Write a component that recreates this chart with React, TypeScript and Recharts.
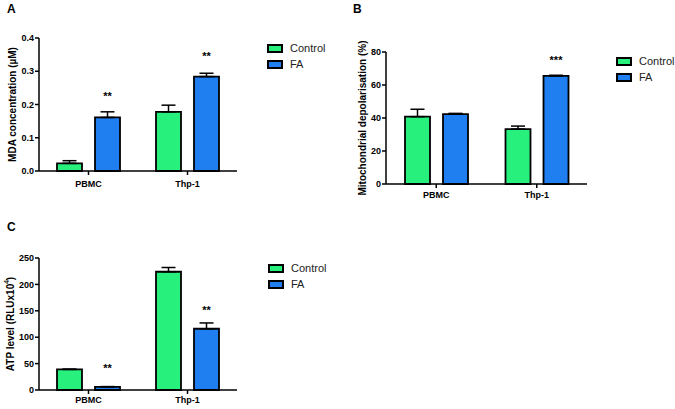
import React from 'react'
import { Bar, BarChart, ErrorBar, LabelList, XAxis, YAxis } from 'recharts'

const groups = ['PBMC', 'Thp-1']
const seriesNames = ['Control', 'FA']
const seriesColors = ['#27F07C', '#1F7EF0']

// A: MDA concentration (µM)
const mdaControl = [0.023, 0.178]
const mdaControlErr = [0.008, 0.02]
const mdaFA = [0.161, 0.284]
const mdaFAErr = [0.017, 0.01]
const mdaSig = ['**', '**']
const mdaTicks = [0, 0.1, 0.2, 0.3, 0.4]

// B: Mitochondrial depolarisation (%)
const mitoControl = [40.8, 33.3]
const mitoControlErr = [4.5, 1.8]
const mitoFA = [42.4, 65.5]
const mitoFAErr = [0.4, 0.4]
const mitoSig = ['', '***']
const mitoTicks = [0, 20, 40, 60, 80]

// C: ATP level (RLUx10^4)
const atpControl = [39, 224]
const atpControlErr = [0.5, 8]
const atpFA = [6, 116]
const atpFAErr = [0.5, 11]
const atpSig = ['**', '**']
const atpTicks = [0, 50, 100, 150, 200, 250]

const font = '"Liberation Sans", Arial, Helvetica, sans-serif'

function buildData(
	control: number[],
	controlErr: number[],
	fa: number[],
	faErr: number[],
	sig: string[]
) {
	return groups.map((name, i) => ({
		name,
		control: control[i],
		controlErr: [0, controlErr[i]],
		fa: fa[i],
		faErr: [0, faErr[i]],
		sig: sig[i]
	}))
}

// rotated axis title, optional superscript part
function AxisTitle(props: any) {
	const { viewBox, offset, text, sup } = props
	const x = viewBox.x + offset
	const y = viewBox.y + viewBox.height / 2
	return (
		<text
			x={x}
			y={y}
			transform={`rotate(-90, ${x}, ${y})`}
			textAnchor='middle'
			dominantBaseline='central'
			fontSize={10}
			fontWeight='bold'
			fontFamily={font}
			fill='#000'
		>
			{text}
			{sup ? (
				<>
					<tspan fontSize={6.5} dy={-4}>
						{sup}
					</tspan>
					<tspan dy={4}>)</tspan>
				</>
			) : null}
		</text>
	)
}

type PanelProps = {
	data: ReturnType<typeof buildData>
	left: number
	top: number
	width: number
	height: number
	margin: { top: number; right: number; bottom: number; left: number }
	yWidth: number
	xHeight: number
	xTickMargin: number
	ticks: number[]
	format?: (v: number) => string
	yLabel: string
	yLabelSup?: string
	yLabelOffset: number
	starOffset: number
}

function Panel(p: PanelProps) {
	const tickStyle = { fontSize: 9, fontWeight: 'bold', fill: '#000', fontFamily: font }
	return (
		<div style={{ position: 'absolute', left: p.left, top: p.top }}>
			<BarChart
				width={p.width}
				height={p.height}
				data={p.data}
				margin={p.margin}
				barSize={25}
				barGap={13}
			>
				<XAxis
					dataKey='name'
					height={p.xHeight}
					tick={tickStyle}
					tickSize={4}
					tickMargin={p.xTickMargin}
					axisLine={{ stroke: '#000', strokeWidth: 1.5 }}
					tickLine={{ stroke: '#000', strokeWidth: 1.5 }}
				/>
				<YAxis
					width={p.yWidth}
					domain={[p.ticks[0], p.ticks[p.ticks.length - 1]]}
					ticks={p.ticks}
					tickFormatter={p.format}
					tick={tickStyle}
					tickSize={4}
					tickMargin={1}
					axisLine={{ stroke: '#000', strokeWidth: 1.5 }}
					tickLine={{ stroke: '#000', strokeWidth: 1.5 }}
					label={(lp: any) => (
						<AxisTitle
							viewBox={lp.viewBox}
							offset={p.yLabelOffset}
							text={p.yLabel}
							sup={p.yLabelSup}
						/>
					)}
				/>
				<Bar
					dataKey='control'
					fill={seriesColors[0]}
					stroke='#000'
					strokeWidth={1.8}
					isAnimationActive={false}
				>
					<ErrorBar
						dataKey='controlErr'
						direction='y'
						width={7}
						stroke='#000'
						strokeWidth={1.5}
					/>
				</Bar>
				<Bar
					dataKey='fa'
					fill={seriesColors[1]}
					stroke='#000'
					strokeWidth={1.8}
					isAnimationActive={false}
				>
					<ErrorBar
						dataKey='faErr'
						direction='y'
						width={7}
						stroke='#000'
						strokeWidth={1.5}
					/>
					<LabelList
						dataKey='sig'
						position='top'
						offset={p.starOffset}
						style={{ fontSize: 11, fontWeight: 'bold', fill: '#000', fontFamily: font }}
					/>
				</Bar>
			</BarChart>
		</div>
	)
}

function Legend({ left, top }: { left: number; top: number }) {
	return (
		<div style={{ position: 'absolute', left, top, fontFamily: font }}>
			{seriesNames.map((name, i) => (
				<div key={name} style={{ display: 'flex', alignItems: 'center', height: 16 }}>
					<div
						style={{
							width: 16,
							height: 9,
							boxSizing: 'border-box',
							border: '2px solid #000',
							background: seriesColors[i]
						}}
					/>
					<span style={{ marginLeft: 7, fontSize: 11, lineHeight: '16px', color: '#222' }}>
						{name}
					</span>
				</div>
			))}
		</div>
	)
}

function PanelLetter({ left, top, text }: { left: number; top: number; text: string }) {
	return (
		<div
			style={{
				position: 'absolute',
				left,
				top,
				fontFamily: font,
				fontWeight: 'bold',
				fontSize: 12,
				lineHeight: '12px'
			}}
		>
			{text}
		</div>
	)
}

export default function App() {
	const dataA = buildData(mdaControl, mdaControlErr, mdaFA, mdaFAErr, mdaSig)
	const dataB = buildData(mitoControl, mitoControlErr, mitoFA, mitoFAErr, mitoSig)
	const dataC = buildData(atpControl, atpControlErr, atpFA, atpFAErr, atpSig)
	return (
		<div
			style={{
				position: 'absolute',
				left: 0,
				top: 0,
				width: 675,
				height: 409,
				background: '#fff',
				overflow: 'hidden'
			}}
		>
			<PanelLetter left={7} top={3} text='A' />
			<PanelLetter left={353} top={3} text='B' />
			<PanelLetter left={7} top={221} text='C' />
			<Panel
				data={dataA}
				left={0}
				top={0}
				width={340}
				height={200}
				margin={{ top: 38, right: 103, bottom: 0, left: 0 }}
				yWidth={39}
				xHeight={29}
				xTickMargin={6}
				ticks={mdaTicks}
				format={(v) => v.toFixed(1)}
				yLabel='MDA concentration (µM)'
				yLabelOffset={12}
				starOffset={17}
			/>
			<Panel
				data={dataB}
				left={340}
				top={0}
				width={335}
				height={205}
				margin={{ top: 52, right: 88, bottom: 0, left: 0 }}
				yWidth={46}
				xHeight={21}
				xTickMargin={4}
				ticks={mitoTicks}
				yLabel='Mitochondrial depolarisation (%)'
				yLabelOffset={22}
				starOffset={12}
			/>
			<Panel
				data={dataC}
				left={0}
				top={200}
				width={340}
				height={209}
				margin={{ top: 58, right: 103, bottom: 0, left: 0 }}
				yWidth={39}
				xHeight={19}
				xTickMargin={3}
				ticks={atpTicks}
				yLabel='ATP level (RLUx10'
				yLabelSup='4'
				yLabelOffset={10}
				starOffset={15}
			/>
			<Legend left={267} top={40} />
			<Legend left={616} top={53} />
			<Legend left={268} top={260} />
		</div>
	)
}
